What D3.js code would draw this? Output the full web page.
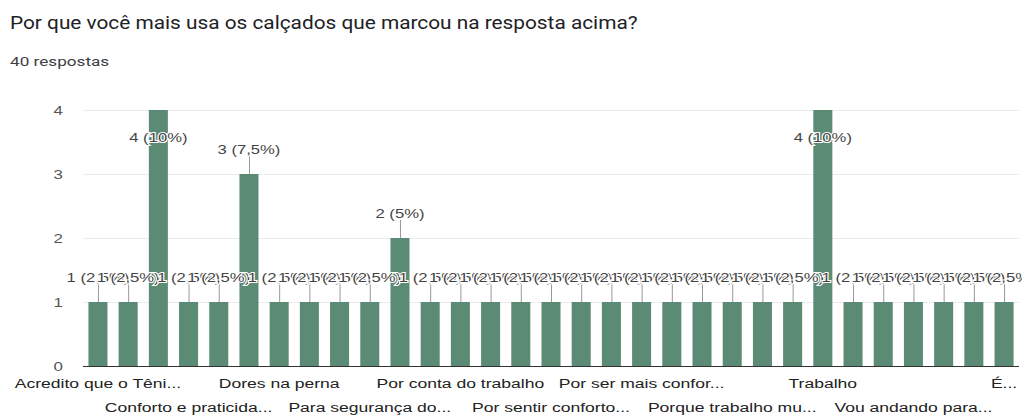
<!DOCTYPE html>
<html>
<head>
<meta charset="utf-8">
<script src="https://cdn.jsdelivr.net/npm/d3@7/dist/d3.min.js"></script>
<style>
  html, body { margin: 0; padding: 0; background: #fff; }
  svg { display: block; }
</style>
</head>
<body>
<svg id="chart" width="1022" height="419"></svg>
<script>
// Answer counts, one per category, in the order the answers are listed
const values = [1, 1, 4, 1, 1, 3, 1, 1, 1, 1, 2, 1, 1, 1, 1, 1, 1, 1, 1, 1, 1, 1, 1, 1, 4, 1, 1, 1, 1, 1, 1];
// Category labels shown under the axis ("" where the axis skips a label)
const axisLabels = [
  "Acredito que o Têni...", "", "", "Conforto e praticida...", "", "",
  "Dores na perna", "", "", "Para segurança do...", "", "",
  "Por conta do trabalho", "", "", "Por sentir conforto...", "", "",
  "Por ser mais confor...", "", "", "Porque trabalho mu...", "", "",
  "Trabalho", "", "", "Vou andando para...", "", "", "É..."
];
const yTicks = [0, 1, 2, 3, 4];
const title = "Por que você mais usa os calçados que marcou na resposta acima?";
const subtitle = "40 respostas";

const svg = d3.select("#chart");
const total = d3.sum(values);

// Text in this chart is set slightly wide; stretch glyphs horizontally around their anchor
function widen(sel, sx) {
  sel.each(function () {
    const t = d3.select(this);
    const tx = +t.attr("x") || 0, ty = +t.attr("y") || 0;
    t.attr("x", 0).attr("y", 0)
      .attr("transform", `translate(${tx},${ty}) scale(${sx},1)`);
  });
}

const x = d3.scaleBand()
  .domain(d3.range(values.length))
  .range([83, 1019])
  .paddingInner(0.37)
  .paddingOuter(0.18);

const y = d3.scaleLinear().domain([0, 4]).range([366, 110]);

// Title block
svg.append("text")
  .attr("x", 10).attr("y", 29)
  .attr("font-family", "Roboto, 'Noto Sans', sans-serif")
  .attr("font-size", 17.5)
  .attr("fill", "#202124")
  .text(title)
  .call(widen, 1.19);
svg.append("text")
  .attr("x", 10).attr("y", 66)
  .attr("font-family", "Roboto, 'Noto Sans', sans-serif")
  .attr("font-size", 13)
  .attr("fill", "#3c4043")
  .text(subtitle)
  .call(widen, 1.32);

// Horizontal gridlines
svg.append("g")
  .selectAll("line")
  .data(yTicks.filter(t => t > 0))
  .join("line")
  .attr("x1", 83).attr("x2", 1019)
  .attr("y1", d => Math.round(y(d)) + 0.5)
  .attr("y2", d => Math.round(y(d)) + 0.5)
  .attr("stroke", "#ebebeb");

// Y axis labels
const yAxis = d3.axisLeft(y).tickValues(yTicks).tickSize(0).tickPadding(0).tickFormat(d3.format("d"));
svg.append("g")
  .attr("transform", "translate(63,0)")
  .call(yAxis)
  .call(g => g.select(".domain").remove())
  .call(g => g.selectAll("text")
    .attr("font-family", "'Liberation Sans', Arial, sans-serif")
    .attr("font-size", 13)
    .attr("fill", "#555")
    .attr("transform", "scale(1.3,1)"));

// Bars
svg.append("g")
  .selectAll("rect")
  .data(values)
  .join("rect")
  .attr("x", (d, i) => x(i))
  .attr("width", x.bandwidth())
  .attr("y", d => y(d))
  .attr("height", d => y(0) - y(d))
  .attr("fill", "#5b8b75");

// Baseline
svg.append("line")
  .attr("x1", 83).attr("x2", 1019)
  .attr("y1", y(0) + 0.5).attr("y2", y(0) + 0.5)
  .attr("stroke", "#333").attr("stroke-width", 1.2);

// X axis labels, alternating in two rows
svg.append("g")
  .selectAll("text")
  .data(axisLabels.map((t, i) => ({ t, i })).filter(d => d.t))
  .join("text")
  .attr("x", d => x(d.i) + x.bandwidth() / 2)
  .attr("y", (d, k) => k % 2 === 0 ? 388 : 412)
  .attr("text-anchor", "middle")
  .attr("font-family", "'Liberation Sans', Arial, sans-serif")
  .attr("font-size", 13.5)
  .attr("fill", "#222")
  .text(d => d.t)
  .call(widen, 1.3);

// Value annotations with stems
const fmtPct = v => {
  const p = v / total * 100;
  return (Number.isInteger(p) ? String(p) : p.toFixed(1)).replace(".", ",");
};
const plotTop = y(4);
const ann = svg.append("g");
values.forEach((v, i) => {
  const cx = x(i) + x.bandwidth() / 2;
  const top = y(v);
  const inside = top - 30 < plotTop - 5;
  const cy = inside ? top + 27 : top - 25;
  if (!inside) {
    ann.append("line")
      .attr("x1", cx + 0.5).attr("x2", cx + 0.5)
      .attr("y1", cy + 7).attr("y2", top)
      .attr("stroke", "#999").attr("stroke-width", 1);
  }
  ann.append("text")
    .attr("x", cx).attr("y", cy + 4.5)
    .attr("text-anchor", "middle")
    .attr("font-family", "'Liberation Sans', Arial, sans-serif")
    .attr("font-size", 13)
    .attr("fill", "#444")
    .attr("stroke", "#fff").attr("stroke-width", 2)
    .attr("paint-order", "stroke")
    .text(`${v} (${fmtPct(v)}%)`)
    .call(widen, 1.28);
});
</script>
</body>
</html>
